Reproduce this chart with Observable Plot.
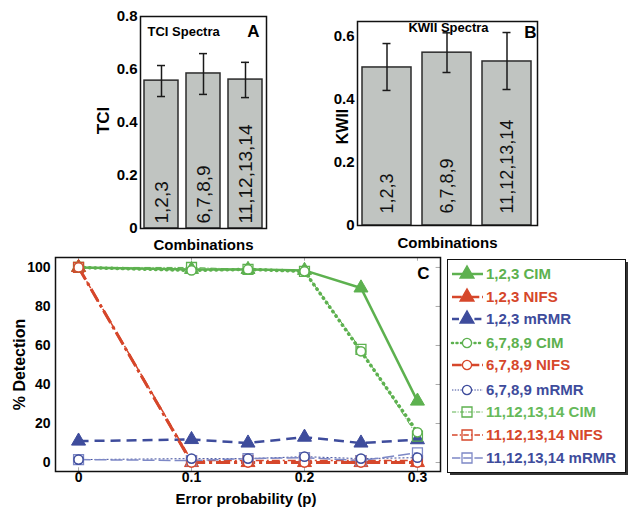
<!DOCTYPE html>
<html><head><meta charset="utf-8">
<script src="https://cdn.jsdelivr.net/npm/d3@7"></script>
<script src="https://cdn.jsdelivr.net/npm/@observablehq/plot@0.6"></script>
<style>
body{margin:0;background:#fff;}
#wrap{position:relative;width:635px;height:507px;overflow:hidden;background:#fff;}
#wrap > svg, #wrap > figure{position:absolute;margin:0;}
</style></head><body><div id="wrap"></div>
<script>
// ---- data ----
const combos = ["1,2,3", "6,7,8,9", "11,12,13,14"];
const tciMean = [0.558, 0.585, 0.562];
const tciLo = [0.498, 0.506, 0.494];
const tciHi = [0.615, 0.660, 0.627];
const kwiiMean = [0.502, 0.549, 0.521];
const kwiiLo = [0.429, 0.486, 0.432];
const kwiiHi = [0.578, 0.612, 0.613];
const yTicksA = [0, 0.2, 0.4, 0.6, 0.8];
const yTicksB = [0, 0.2, 0.4, 0.6];
const errorP = [0, 0.1, 0.15, 0.2, 0.25, 0.3];
const xTicksC = [0, 0.1, 0.2, 0.3];
const yTicksC = [0, 20, 40, 60, 80, 100];
const seriesNames = ["1,2,3 CIM","1,2,3 NIFS","1,2,3 mRMR","6,7,8,9 CIM","6,7,8,9 NIFS","6,7,8,9 mRMR","11,12,13,14 CIM","11,12,13,14 NIFS","11,12,13,14 mRMR"];
const cim123   = [100, 99, 99, 98.5, 89.5, 31.5];
const nifs123  = [100, 0, 0, 0, 0, 0];
const mrmr123  = [11, 11.8, 10, 13, 10, 11.7];
const cim6789  = [100, 98.5, 99, 98, 57, 15.5];
const nifs6789 = [100, 0, 0, 0, 0, 0];
const mrmr6789 = [1.5, 2, 2, 3, 2, 2.5];
const cim1114  = [100, 100, 99, 98, 58, 13.5];
const nifs1114 = [100, 1, 1, 1, 1, 1];
const mrmr1114 = [1.5, 1, 2, 2.5, 1, 5];
const seriesValues = [cim123, nifs123, mrmr123, cim6789, nifs6789, mrmr6789, cim1114, nifs1114, mrmr1114];

// ---- styles ----
const GREEN = "#5db14f", RED = "#d6472b", BLUE = "#3e4c9c";
const seriesStyle = [
  {stroke: GREEN, width: 2.5, dash: null, symbol: "triangle", cap: "butt", text: GREEN},
  {stroke: RED, width: 2.5, dash: "14,4,3,4", symbol: "triangle", cap: "butt", text: RED},
  {stroke: BLUE, width: 2.5, dash: "10,6", symbol: "triangle", cap: "butt", text: BLUE},
  {stroke: GREEN, width: 3.5, dash: "0.5,5", symbol: "circle", cap: "round", text: GREEN},
  {stroke: RED, width: 3, dash: "14,4,3,4", symbol: "circle", cap: "butt", text: RED},
  {stroke: BLUE, width: 1, dash: "2,2", symbol: "circle", cap: "butt", text: BLUE},
  {stroke: GREEN, width: 1, dash: "6,2,1,2", symbol: "square", cap: "butt", text: "#66b95a"},
  {stroke: RED, width: 1.5, dash: "8,3,2,3", symbol: "square", cap: "butt", text: RED},
  {stroke: "#7d88c6", width: 1.5, dash: "12,4", symbol: "square", cap: "butt", text: BLUE}
];
const FONT = "'Liberation Sans', Arial, Helvetica, sans-serif";
const baseStyle = {background: "transparent", fontFamily: FONT, fontWeight: "bold", fontSize: "15px", color: "#000", overflow: "visible"};
const fmt1 = d => d === 0 ? "0" : d3.format(".1f")(d);
const wrap = document.getElementById("wrap");

function place(el, left, top) { el.style.left = left + "px"; el.style.top = top + "px"; wrap.appendChild(el); }

function barPanel(o) {
  const rows = combos.map((c, i) => ({combo: c, mean: o.mean[i], lo: o.lo[i], hi: o.hi[i]}));
  return Plot.plot({
    width: o.width, height: o.height,
    marginLeft: o.ml, marginRight: o.mr, marginTop: o.mt, marginBottom: o.mb,
    style: baseStyle,
    x: {type: "band", domain: combos, paddingInner: o.pi, paddingOuter: o.po, axis: null},
    y: {domain: o.domain, axis: null},
    marks: [
      Plot.barY(rows, {x: "combo", y: "mean", fill: "#c0c4c1", stroke: "#2b2b2b", strokeWidth: 1.5}),
      Plot.ruleX(rows, {x: "combo", y1: "lo", y2: "hi", stroke: "#1a1a1a", strokeWidth: 1.5}),
      Plot.tickY(rows, {x: "combo", y: "lo", insetLeft: o.cap, insetRight: o.cap, stroke: "#1a1a1a", strokeWidth: 1.5}),
      Plot.tickY(rows, {x: "combo", y: "hi", insetLeft: o.cap, insetRight: o.cap, stroke: "#1a1a1a", strokeWidth: 1.5}),
      Plot.text(rows, {x: "combo", y: () => 0, text: "combo", rotate: -90, textAnchor: "start", dy: o.labelDy, fontSize: o.labelSize, fontWeight: "normal", fill: "#111"}),
      Plot.frame({stroke: "#111", strokeWidth: 1.5}),
      Plot.axisY(o.ticks, {tickSize: 0, tickPadding: 3, tickFormat: fmt1, label: null, fontSize: 15}),
      Plot.text([o.ylabel], {frameAnchor: "left", textAnchor: "middle", lineAnchor: "middle", dx: o.ylabelDx, dy: o.ylabelDy, rotate: -90, fontSize: o.ylabelSize}),
      Plot.text(["Combinations"], {frameAnchor: "bottom", lineAnchor: "middle", dy: o.xlabelDy, fontSize: 15}),
      Plot.text([o.title], {frameAnchor: o.titleAnchor, textAnchor: o.titleTextAnchor, lineAnchor: "middle", dx: o.titleDx, dy: o.titleDy, fontSize: 13}),
      Plot.text([o.letter], {frameAnchor: "top-right", textAnchor: "middle", lineAnchor: "middle", dx: o.letterDx, dy: o.letterDy, fontSize: 17})
    ]
  });
}

const A = barPanel({
  mean: tciMean, lo: tciLo, hi: tciHi, domain: [0, 0.8], ticks: yTicksA,
  width: 290, height: 260, ml: 140, mr: 24, mt: 16, mb: 32, pi: 0.2, po: 0.1, cap: 13,
  labelDy: -5, labelSize: 19, ylabel: "TCI", ylabelDx: -37, ylabelDy: -2, ylabelSize: 17, xlabelDy: 17,
  title: "TCI Spectra", titleAnchor: "top-left", titleTextAnchor: "start", titleDx: 7, titleDy: 15,
  letter: "A", letterDx: -13, letterDy: 15
});
place(A, 0, 0);

const B = barPanel({
  mean: kwiiMean, lo: kwiiLo, hi: kwiiHi, domain: [0, 0.648], ticks: yTicksB,
  width: 260, height: 260, ml: 67, mr: 13, mt: 21, mb: 35, pi: 0.18, po: 0.09, cap: 20.5,
  labelDy: -12, labelSize: 18, ylabel: "KWII", ylabelDx: -15, ylabelDy: 3, ylabelSize: 16, xlabelDy: 18,
  title: "KWII Spectra", titleAnchor: "top", titleTextAnchor: "middle", titleDx: 1, titleDy: 6,
  letter: "B", letterDx: -7, letterDy: 11
});
place(B, 290, 0);

// ---- panel C ----
const lineMarks = [], triMarks = [], sqMarks = [], circMarks = [];
seriesNames.forEach((name, si) => {
  const st = seriesStyle[si];
  const rows = errorP.map((p, i) => ({p, v: seriesValues[si][i]}));
  lineMarks.push(Plot.line(rows, {x: "p", y: "v", stroke: st.stroke, strokeWidth: st.width, strokeDasharray: st.dash, strokeLinecap: st.cap}));
  if (st.symbol === "triangle") triMarks.push(Plot.dot(rows, {x: "p", y: "v", symbol: "triangle", r: 5.2, fill: st.stroke, stroke: st.stroke, strokeWidth: 1}));
  if (st.symbol === "square") sqMarks.push(Plot.dot(rows, {x: "p", y: "v", symbol: "square", r: 5.6, fill: "none", stroke: st.stroke, strokeWidth: 1.3}));
  if (st.symbol === "circle") circMarks.push(Plot.dot(rows, {x: "p", y: "v", symbol: "circle", r: 4.6, fill: "white", stroke: st.stroke, strokeWidth: 1.5}));
});

const C = Plot.plot({
  width: 445, height: 257, marginLeft: 55, marginRight: 5, marginTop: 7, marginBottom: 36,
  style: baseStyle,
  x: {domain: [-0.0204, 0.3204], axis: null},
  y: {domain: [-4.6, 105.1], axis: null},
  marks: [
    Plot.ruleX(xTicksC, {x: d => d, y1: 105.1, y2: 103.2, stroke: "#aaa"}),
    Plot.ruleX(xTicksC, {x: d => d, y1: -4.6, y2: -2.7, stroke: "#aaa"}),
    Plot.ruleY(yTicksC, {y: d => d, x1: 0.3204, x2: 0.3165, stroke: "#aaa"}),
    ...lineMarks, ...triMarks, ...sqMarks, ...circMarks,
    Plot.frame({stroke: "#111", strokeWidth: 1.5}),
    Plot.axisY(yTicksC, {tickSize: 0, tickPadding: 5, label: null, fontSize: 14}),
    Plot.axisX(xTicksC, {tickSize: 0, tickPadding: 1, tickFormat: d => d === 0 ? "0" : d3.format(".1f")(d), label: null, fontSize: 14}),
    Plot.text(["% Detection"], {frameAnchor: "left", textAnchor: "middle", lineAnchor: "middle", dx: -36, rotate: -90, fontSize: 16}),
    Plot.text(["Error probability (p)"], {frameAnchor: "bottom", lineAnchor: "middle", dy: 28, dx: -2, fontSize: 15}),
    Plot.text(["C"], {frameAnchor: "top-right", textAnchor: "middle", lineAnchor: "middle", dx: -17, dy: 16, fontSize: 17})
  ]
});
place(C, 0, 250);

// ---- legend ----
const leg = d3.create("svg").attr("width", 195).attr("height", 230)
  .style("font-family", FONT).style("font-weight", "bold").style("font-size", "15px");
leg.append("rect").attr("x", 10).attr("y", 12).attr("width", 178).attr("height", 213).attr("fill", "#333");
leg.append("rect").attr("x", 7.5).attr("y", 9.5).attr("width", 178).attr("height", 213).attr("fill", "#fff").attr("stroke", "#111").attr("stroke-width", 1);
const rowY = [24, 47, 69, 93, 115, 140, 162, 185, 208];
seriesNames.forEach((name, i) => {
  const st = seriesStyle[i];
  const g = leg.append("g").attr("transform", `translate(0,${rowY[i]})`);
  g.append("line").attr("x1", 12).attr("x2", 43).attr("y1", 0).attr("y2", 0)
    .attr("stroke", st.stroke).attr("stroke-width", Math.min(st.width, 2.5))
    .attr("stroke-dasharray", st.dash ? st.dash.split(",").map(v => Math.max(1, +v * 0.7)).join(",") : null)
    .attr("stroke-linecap", st.cap);
  const sym = st.symbol === "triangle" ? d3.symbolTriangle : st.symbol === "square" ? d3.symbolSquare : d3.symbolCircle;
  const size = st.symbol === "triangle" ? 85 : st.symbol === "square" ? 100 : 66;
  g.append("path").attr("transform", "translate(27,0)").attr("d", d3.symbol(sym, size)())
    .attr("fill", st.symbol === "triangle" ? st.stroke : st.symbol === "circle" ? "#fff" : "none")
    .attr("stroke", st.stroke).attr("stroke-width", 1.3);
  g.append("text").attr("x", 46).attr("y", 0).attr("dy", "0.35em").attr("fill", st.text).text(name);
});
place(leg.node(), 440, 250);
</script></body></html>
